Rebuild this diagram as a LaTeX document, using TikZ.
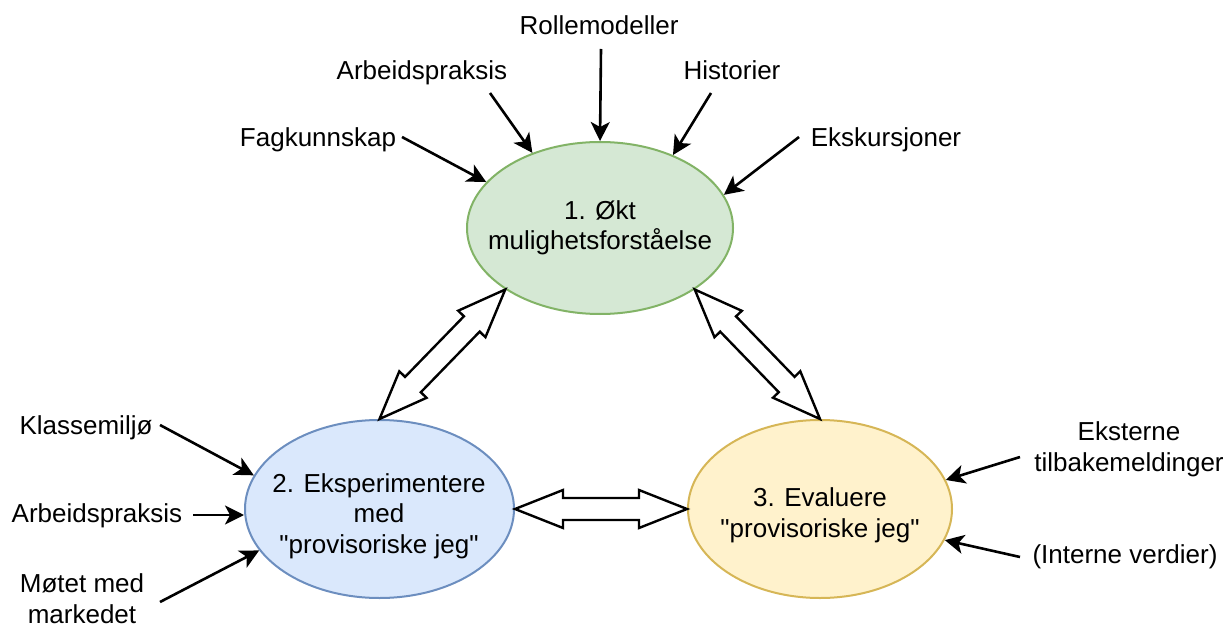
\documentclass[tikz,border=0pt]{standalone}
\usepackage{fontspec}
\setmainfont{Liberation Sans}
\usetikzlibrary{shapes.geometric,arrows.meta,calc}

\definecolor{gfill}{HTML}{D5E8D4}\definecolor{gline}{HTML}{82B366}
\definecolor{bfill}{HTML}{DAE8FC}\definecolor{bline}{HTML}{6C8EBF}
\definecolor{yfill}{HTML}{FFF2CC}\definecolor{yline}{HTML}{D6B656}

\tikzset{
  stage/.style={ellipse, draw, line width=2pt, minimum width=266pt,
    minimum height=172pt, inner sep=0pt},
  lbl/.style={font=\fontsize{26}{30.5}\selectfont, inner sep=0pt, align=center, anchor=base},
  feed/.style={line width=2.6pt, -{Stealth[length=19pt,width=19pt,inset=5pt]}},
  barrow/.style={draw, line width=2.4pt, fill=white, line join=miter},
}

% double-headed block arrow between two points
\newcommand{\blockarrow}[2]{%
  \path ($(#1)!48pt!(#2)$) coordinate (ba1) ($(#2)!48pt!(#1)$) coordinate (ba2);
  \draw[barrow] (#1) -- ($(ba1)!19pt!90:(#2)$) -- ($(ba1)!11pt!90:(#2)$)
    -- ($(ba2)!11pt!-90:(#1)$) -- ($(ba2)!19pt!-90:(#1)$) -- (#2)
    -- ($(ba2)!19pt!90:(#1)$) -- ($(ba2)!11pt!90:(#1)$)
    -- ($(ba1)!11pt!-90:(#2)$) -- ($(ba1)!19pt!-90:(#2)$) -- cycle;}

\begin{document}
\begin{tikzpicture}[x=1pt,y=-1pt]
\useasboundingbox (0,0) rectangle (1228,628);

% the three stages
\node[stage, fill=gfill, draw=gline] (g) at (600,228) {};
\node[stage, fill=bfill, draw=bline, minimum width=269pt, minimum height=178pt] (b) at (379.5,509) {};
\node[stage, fill=yfill, draw=yline, minimum width=264pt, minimum height=178pt] (y) at (820,509) {};

% multi-line labels are placed by the baseline of their last line
\node[lbl] (gt) at (600,250) {1. Økt\\mulighetsforståelse};
\node[lbl] (bt) at (379,553) {2. Eksperimentere\\med\\\textquotedbl provisoriske jeg\textquotedbl};
\node[lbl] (yt) at (820,537) {3. Evaluere\\\textquotedbl provisoriske jeg\textquotedbl};

% links between the stages
\blockarrow{b.north}{g.south west}
\blockarrow{g.south east}{y.north}
\blockarrow{b.east}{y.west}

% influences
\node[lbl] (roll) at (599,35) {Rollemodeller};
\node[lbl] (arb1) at (422,80) {Arbeidspraksis};
\node[lbl] (hist) at (732,80) {Historier};
\node[lbl] (fag) at (318,147) {Fagkunnskap};
\node[lbl] (eks) at (886,147) {Ekskursjoner};
\node[lbl] (klas) at (86,434) {Klassemiljø};
\node[lbl] (arb2) at (97,522) {Arbeidspraksis};
\node[lbl] (mot) at (82,623) {Møtet med\\markedet};
\node[lbl] (ekst) at (1129,471) {Eksterne\\tilbakemeldinger};
\node[lbl] (intv) at (1125,563) {(Interne verdier)};

\coordinate (sfag) at (402,137);
\coordinate (sarb1) at (490,93);
\coordinate (sroll) at (601,49);
\coordinate (shist) at (711,93);
\coordinate (seks) at (799,137);
\coordinate (sklas) at (160,425);
\coordinate (sarb2) at (193,515);
\coordinate (smot) at (160,602);
\coordinate (sekst) at (1020,457);
\coordinate (sintv) at (1020,557);

\draw[feed] (sfag) -- (g.158.4);
\draw[feed] (sarb1) -- (g.132);
\draw[feed] (sroll) -- (g.90);
\draw[feed] (shist) -- (g.45.4);
\draw[feed] (seks) -- (g.15.7);
\draw[feed] (sklas) -- (b.165.7);
\draw[feed] (sarb2) -- (sarb2 -| b.west);
\draw[feed] (smot) -- (b.199.9);
\draw[feed] (sekst) -- (y.13.6);
\draw[feed] (sintv) -- (y.346.8);
\end{tikzpicture}
\end{document}
